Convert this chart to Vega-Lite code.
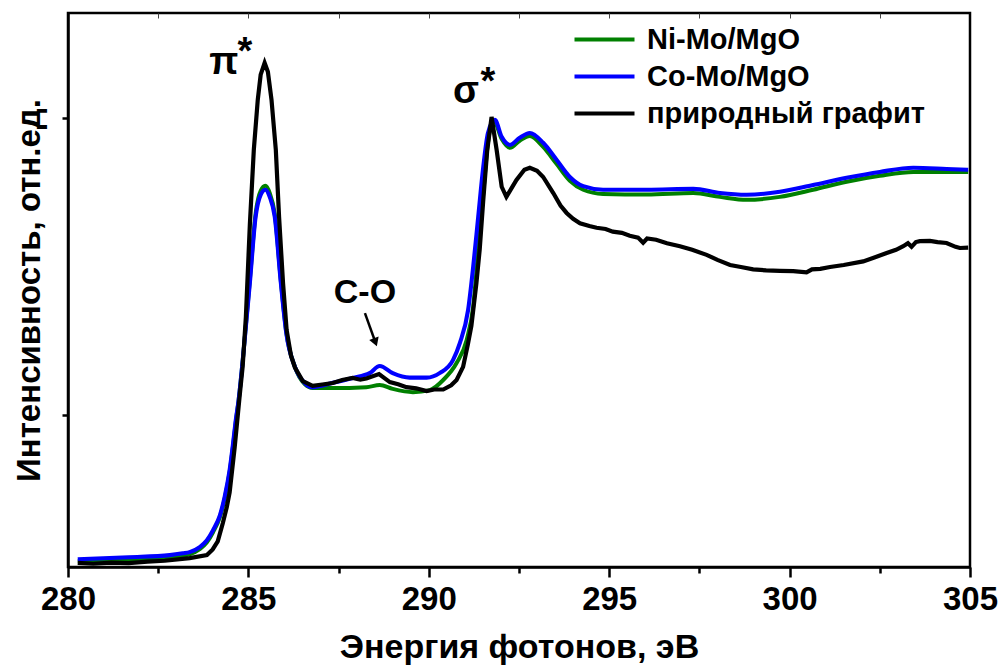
{
  "$schema": "https://vega.github.io/schema/vega-lite/v6.json",
  "width": 902,
  "height": 554,
  "autosize": {"type": "none"},
  "padding": {"left": 68, "top": 13, "right": 34, "bottom": 101},
  "background": "white",
  "datasets": {
    "spectra": [
      {"s": "Ni-Mo/MgO", "e": 280.27, "i": 0.508}, {"s": "Ni-Mo/MgO", "e": 281.68, "i": 0.515}, {"s": "Ni-Mo/MgO", "e": 282.82, "i": 0.522}, {"s": "Ni-Mo/MgO", "e": 283.37, "i": 0.532}, {"s": "Ni-Mo/MgO", "e": 283.65, "i": 0.549}, {"s": "Ni-Mo/MgO", "e": 283.85, "i": 0.572}, {"s": "Ni-Mo/MgO", "e": 284.02, "i": 0.606}, {"s": "Ni-Mo/MgO", "e": 284.21, "i": 0.657}, {"s": "Ni-Mo/MgO", "e": 284.34, "i": 0.717}, {"s": "Ni-Mo/MgO", "e": 284.48, "i": 0.808}, {"s": "Ni-Mo/MgO", "e": 284.57, "i": 0.892}, {"s": "Ni-Mo/MgO", "e": 284.65, "i": 0.976}, {"s": "Ni-Mo/MgO", "e": 284.73, "i": 1.051}, {"s": "Ni-Mo/MgO", "e": 284.87, "i": 1.219}, {"s": "Ni-Mo/MgO", "e": 285.04, "i": 1.455}, {"s": "Ni-Mo/MgO", "e": 285.20, "i": 1.677}, {"s": "Ni-Mo/MgO", "e": 285.34, "i": 1.754}, {"s": "Ni-Mo/MgO", "e": 285.47, "i": 1.771}, {"s": "Ni-Mo/MgO", "e": 285.59, "i": 1.747}, {"s": "Ni-Mo/MgO", "e": 285.73, "i": 1.677}, {"s": "Ni-Mo/MgO", "e": 285.90, "i": 1.451}, {"s": "Ni-Mo/MgO", "e": 286.05, "i": 1.279}, {"s": "Ni-Mo/MgO", "e": 286.29, "i": 1.162}, {"s": "Ni-Mo/MgO", "e": 286.56, "i": 1.104}, {"s": "Ni-Mo/MgO", "e": 286.78, "i": 1.091}, {"s": "Ni-Mo/MgO", "e": 287.34, "i": 1.091}, {"s": "Ni-Mo/MgO", "e": 288.27, "i": 1.094}, {"s": "Ni-Mo/MgO", "e": 288.64, "i": 1.101}, {"s": "Ni-Mo/MgO", "e": 289.00, "i": 1.088}, {"s": "Ni-Mo/MgO", "e": 289.56, "i": 1.077}, {"s": "Ni-Mo/MgO", "e": 290.03, "i": 1.084}, {"s": "Ni-Mo/MgO", "e": 290.40, "i": 1.118}, {"s": "Ni-Mo/MgO", "e": 290.77, "i": 1.175}, {"s": "Ni-Mo/MgO", "e": 291.05, "i": 1.253}, {"s": "Ni-Mo/MgO", "e": 291.23, "i": 1.364}, {"s": "Ni-Mo/MgO", "e": 291.37, "i": 1.556}, {"s": "Ni-Mo/MgO", "e": 291.51, "i": 1.747}, {"s": "Ni-Mo/MgO", "e": 291.64, "i": 1.916}, {"s": "Ni-Mo/MgO", "e": 291.80, "i": 1.990}, {"s": "Ni-Mo/MgO", "e": 292.02, "i": 1.929}, {"s": "Ni-Mo/MgO", "e": 292.25, "i": 1.899}, {"s": "Ni-Mo/MgO", "e": 292.52, "i": 1.923}, {"s": "Ni-Mo/MgO", "e": 292.80, "i": 1.939}, {"s": "Ni-Mo/MgO", "e": 293.17, "i": 1.902}, {"s": "Ni-Mo/MgO", "e": 293.54, "i": 1.845}, {"s": "Ni-Mo/MgO", "e": 293.91, "i": 1.788}, {"s": "Ni-Mo/MgO", "e": 294.28, "i": 1.758}, {"s": "Ni-Mo/MgO", "e": 294.83, "i": 1.744}, {"s": "Ni-Mo/MgO", "e": 296.04, "i": 1.742}, {"s": "Ni-Mo/MgO", "e": 297.33, "i": 1.747}, {"s": "Ni-Mo/MgO", "e": 298.07, "i": 1.734}, {"s": "Ni-Mo/MgO", "e": 298.81, "i": 1.724}, {"s": "Ni-Mo/MgO", "e": 299.73, "i": 1.734}, {"s": "Ni-Mo/MgO", "e": 300.65, "i": 1.758}, {"s": "Ni-Mo/MgO", "e": 301.58, "i": 1.785}, {"s": "Ni-Mo/MgO", "e": 302.50, "i": 1.805}, {"s": "Ni-Mo/MgO", "e": 303.43, "i": 1.818}, {"s": "Ni-Mo/MgO", "e": 304.35, "i": 1.818}, {"s": "Ni-Mo/MgO", "e": 304.95, "i": 1.818},

      {"s": "Co-Mo/MgO", "e": 280.27, "i": 0.515}, {"s": "Co-Mo/MgO", "e": 281.68, "i": 0.522}, {"s": "Co-Mo/MgO", "e": 282.82, "i": 0.529}, {"s": "Co-Mo/MgO", "e": 283.18, "i": 0.535}, {"s": "Co-Mo/MgO", "e": 283.37, "i": 0.539}, {"s": "Co-Mo/MgO", "e": 283.65, "i": 0.556}, {"s": "Co-Mo/MgO", "e": 283.85, "i": 0.579}, {"s": "Co-Mo/MgO", "e": 284.02, "i": 0.613}, {"s": "Co-Mo/MgO", "e": 284.21, "i": 0.663}, {"s": "Co-Mo/MgO", "e": 284.34, "i": 0.724}, {"s": "Co-Mo/MgO", "e": 284.48, "i": 0.815}, {"s": "Co-Mo/MgO", "e": 284.57, "i": 0.899}, {"s": "Co-Mo/MgO", "e": 284.65, "i": 0.983}, {"s": "Co-Mo/MgO", "e": 284.73, "i": 1.051}, {"s": "Co-Mo/MgO", "e": 284.87, "i": 1.219}, {"s": "Co-Mo/MgO", "e": 285.04, "i": 1.444}, {"s": "Co-Mo/MgO", "e": 285.20, "i": 1.667}, {"s": "Co-Mo/MgO", "e": 285.34, "i": 1.741}, {"s": "Co-Mo/MgO", "e": 285.47, "i": 1.758}, {"s": "Co-Mo/MgO", "e": 285.59, "i": 1.734}, {"s": "Co-Mo/MgO", "e": 285.73, "i": 1.667}, {"s": "Co-Mo/MgO", "e": 285.90, "i": 1.444}, {"s": "Co-Mo/MgO", "e": 286.05, "i": 1.276}, {"s": "Co-Mo/MgO", "e": 286.29, "i": 1.162}, {"s": "Co-Mo/MgO", "e": 286.56, "i": 1.108}, {"s": "Co-Mo/MgO", "e": 286.76, "i": 1.094}, {"s": "Co-Mo/MgO", "e": 287.34, "i": 1.109}, {"s": "Co-Mo/MgO", "e": 287.89, "i": 1.125}, {"s": "Co-Mo/MgO", "e": 288.36, "i": 1.141}, {"s": "Co-Mo/MgO", "e": 288.64, "i": 1.165}, {"s": "Co-Mo/MgO", "e": 289.00, "i": 1.141}, {"s": "Co-Mo/MgO", "e": 289.47, "i": 1.126}, {"s": "Co-Mo/MgO", "e": 289.94, "i": 1.126}, {"s": "Co-Mo/MgO", "e": 290.31, "i": 1.142}, {"s": "Co-Mo/MgO", "e": 290.67, "i": 1.185}, {"s": "Co-Mo/MgO", "e": 290.86, "i": 1.242}, {"s": "Co-Mo/MgO", "e": 291.09, "i": 1.354}, {"s": "Co-Mo/MgO", "e": 291.23, "i": 1.498}, {"s": "Co-Mo/MgO", "e": 291.37, "i": 1.667}, {"s": "Co-Mo/MgO", "e": 291.51, "i": 1.835}, {"s": "Co-Mo/MgO", "e": 291.64, "i": 1.949}, {"s": "Co-Mo/MgO", "e": 291.83, "i": 1.993}, {"s": "Co-Mo/MgO", "e": 292.02, "i": 1.936}, {"s": "Co-Mo/MgO", "e": 292.25, "i": 1.909}, {"s": "Co-Mo/MgO", "e": 292.52, "i": 1.933}, {"s": "Co-Mo/MgO", "e": 292.80, "i": 1.949}, {"s": "Co-Mo/MgO", "e": 293.17, "i": 1.916}, {"s": "Co-Mo/MgO", "e": 293.54, "i": 1.859}, {"s": "Co-Mo/MgO", "e": 293.91, "i": 1.801}, {"s": "Co-Mo/MgO", "e": 294.28, "i": 1.770}, {"s": "Co-Mo/MgO", "e": 294.83, "i": 1.758}, {"s": "Co-Mo/MgO", "e": 295.57, "i": 1.758}, {"s": "Co-Mo/MgO", "e": 296.04, "i": 1.758}, {"s": "Co-Mo/MgO", "e": 297.33, "i": 1.761}, {"s": "Co-Mo/MgO", "e": 298.07, "i": 1.747}, {"s": "Co-Mo/MgO", "e": 298.81, "i": 1.741}, {"s": "Co-Mo/MgO", "e": 299.73, "i": 1.751}, {"s": "Co-Mo/MgO", "e": 300.65, "i": 1.774}, {"s": "Co-Mo/MgO", "e": 301.58, "i": 1.798}, {"s": "Co-Mo/MgO", "e": 302.50, "i": 1.818}, {"s": "Co-Mo/MgO", "e": 303.43, "i": 1.832}, {"s": "Co-Mo/MgO", "e": 304.35, "i": 1.828}, {"s": "Co-Mo/MgO", "e": 304.95, "i": 1.825},

      {"s": "природный графит", "e": 280.27, "i": 0.503}, {"s": "природный графит", "e": 280.7, "i": 0.500}, {"s": "природный графит", "e": 281.2, "i": 0.504}, {"s": "природный графит", "e": 281.68, "i": 0.502}, {"s": "природный графит", "e": 282.2, "i": 0.507}, {"s": "природный графит", "e": 282.68, "i": 0.510}, {"s": "природный графит", "e": 283.37, "i": 0.519}, {"s": "природный графит", "e": 283.85, "i": 0.529}, {"s": "природный графит", "e": 284.01, "i": 0.548}, {"s": "природный графит", "e": 284.15, "i": 0.575}, {"s": "природный графит", "e": 284.29, "i": 0.636}, {"s": "природный графит", "e": 284.40, "i": 0.690}, {"s": "природный графит", "e": 284.48, "i": 0.740}, {"s": "природный графит", "e": 284.62, "i": 0.892}, {"s": "природный графит", "e": 284.76, "i": 1.067}, {"s": "природный графит", "e": 284.84, "i": 1.162}, {"s": "природный графит", "e": 284.93, "i": 1.330}, {"s": "природный графит", "e": 285.04, "i": 1.640}, {"s": "природный графит", "e": 285.15, "i": 1.892}, {"s": "природный графит", "e": 285.26, "i": 2.061}, {"s": "природный графит", "e": 285.34, "i": 2.145}, {"s": "природный графит", "e": 285.45, "i": 2.185}, {"s": "природный графит", "e": 285.54, "i": 2.155}, {"s": "природный графит", "e": 285.64, "i": 2.061}, {"s": "природный графит", "e": 285.76, "i": 1.892}, {"s": "природный графит", "e": 285.85, "i": 1.667}, {"s": "природный графит", "e": 285.96, "i": 1.444}, {"s": "природный графит", "e": 286.06, "i": 1.286}, {"s": "природный графит", "e": 286.18, "i": 1.200}, {"s": "природный графит", "e": 286.29, "i": 1.160}, {"s": "природный графит", "e": 286.51, "i": 1.114}, {"s": "природный графит", "e": 286.78, "i": 1.098}, {"s": "природный графит", "e": 287.05, "i": 1.103}, {"s": "природный графит", "e": 287.34, "i": 1.108}, {"s": "природный графит", "e": 287.6, "i": 1.118}, {"s": "природный графит", "e": 287.89, "i": 1.125}, {"s": "природный графит", "e": 288.1, "i": 1.119}, {"s": "природный графит", "e": 288.27, "i": 1.123}, {"s": "природный графит", "e": 288.62, "i": 1.138}, {"s": "природный графит", "e": 288.92, "i": 1.111}, {"s": "природный графит", "e": 289.15, "i": 1.104}, {"s": "природный графит", "e": 289.38, "i": 1.094}, {"s": "природный графит", "e": 289.65, "i": 1.090}, {"s": "природный графит", "e": 289.94, "i": 1.081}, {"s": "природный графит", "e": 290.15, "i": 1.086}, {"s": "природный графит", "e": 290.40, "i": 1.086}, {"s": "природный графит", "e": 290.62, "i": 1.100}, {"s": "природный графит", "e": 290.77, "i": 1.118}, {"s": "природный графит", "e": 290.95, "i": 1.162}, {"s": "природный графит", "e": 291.08, "i": 1.236}, {"s": "природный графит", "e": 291.18, "i": 1.300}, {"s": "природный графит", "e": 291.32, "i": 1.444}, {"s": "природный графит", "e": 291.41, "i": 1.556}, {"s": "природный графит", "e": 291.51, "i": 1.724}, {"s": "природный графит", "e": 291.62, "i": 1.892}, {"s": "природный графит", "e": 291.74, "i": 2.003}, {"s": "природный графит", "e": 291.88, "i": 1.892}, {"s": "природный графит", "e": 292.02, "i": 1.768}, {"s": "природный графит", "e": 292.15, "i": 1.734}, {"s": "природный графит", "e": 292.43, "i": 1.791}, {"s": "природный графит", "e": 292.65, "i": 1.825}, {"s": "природный графит", "e": 292.80, "i": 1.832}, {"s": "природный графит", "e": 293.0, "i": 1.822}, {"s": "природный графит", "e": 293.17, "i": 1.801}, {"s": "природный графит", "e": 293.45, "i": 1.747}, {"s": "природный графит", "e": 293.65, "i": 1.705}, {"s": "природный графит", "e": 293.82, "i": 1.680}, {"s": "природный графит", "e": 294.0, "i": 1.660}, {"s": "природный графит", "e": 294.19, "i": 1.645}, {"s": "природный графит", "e": 294.45, "i": 1.636}, {"s": "природный графит", "e": 294.65, "i": 1.630}, {"s": "природный графит", "e": 294.9, "i": 1.626}, {"s": "природный графит", "e": 295.10, "i": 1.617}, {"s": "природный графит", "e": 295.35, "i": 1.613}, {"s": "природный графит", "e": 295.57, "i": 1.603}, {"s": "природный графит", "e": 295.8, "i": 1.597}, {"s": "природный графит", "e": 295.94, "i": 1.580}, {"s": "природный графит", "e": 296.05, "i": 1.594}, {"s": "природный графит", "e": 296.3, "i": 1.590}, {"s": "природный графит", "e": 296.6, "i": 1.578}, {"s": "природный графит", "e": 296.96, "i": 1.568}, {"s": "природный графит", "e": 297.3, "i": 1.556}, {"s": "природный графит", "e": 297.70, "i": 1.539}, {"s": "природный графит", "e": 298.0, "i": 1.522}, {"s": "природный графит", "e": 298.35, "i": 1.505}, {"s": "природный графит", "e": 298.65, "i": 1.498}, {"s": "природный графит", "e": 298.99, "i": 1.490}, {"s": "природный графит", "e": 299.35, "i": 1.487}, {"s": "природный графит", "e": 299.73, "i": 1.485}, {"s": "природный графит", "e": 300.1, "i": 1.484}, {"s": "природный графит", "e": 300.47, "i": 1.480}, {"s": "природный графит", "e": 300.62, "i": 1.490}, {"s": "природный графит", "e": 300.85, "i": 1.492}, {"s": "природный графит", "e": 301.12, "i": 1.498}, {"s": "природный графит", "e": 301.5, "i": 1.505}, {"s": "природный графит", "e": 302.04, "i": 1.517}, {"s": "природный графит", "e": 302.35, "i": 1.530}, {"s": "природный графит", "e": 302.69, "i": 1.545}, {"s": "природный графит", "e": 302.95, "i": 1.556}, {"s": "природный графит", "e": 303.15, "i": 1.568}, {"s": "природный графит", "e": 303.28, "i": 1.578}, {"s": "природный графит", "e": 303.38, "i": 1.566}, {"s": "природный графит", "e": 303.50, "i": 1.582}, {"s": "природный графит", "e": 303.61, "i": 1.585}, {"s": "природный графит", "e": 303.89, "i": 1.586}, {"s": "природный графит", "e": 304.1, "i": 1.582}, {"s": "природный графит", "e": 304.35, "i": 1.579}, {"s": "природный графит", "e": 304.6, "i": 1.566}, {"s": "природный графит", "e": 304.72, "i": 1.562}, {"s": "природный графит", "e": 304.95, "i": 1.563}
    ],
    "labels": [
      {"t": "π", "e": 284.32, "i": 2.148, "k": "big"},
      {"t": "*", "e": 284.90, "i": 2.182, "k": "big"},
      {"t": "σ", "e": 291.03, "i": 2.051, "k": "big"},
      {"t": "*", "e": 291.64, "i": 2.081, "k": "big"},
      {"t": "C-O", "e": 288.23, "i": 1.377, "k": "small"}
    ],
    "arrow": [
      {"e1": 288.23, "i1": 1.343, "e2": 288.52, "i2": 1.245}
    ]
  },
  "layer": [
    {
      "data": {"name": "spectra"},
      "transform": [{"filter": "datum.s === 'Ni-Mo/MgO'"}],
      "mark": {"type": "line", "interpolate": "monotone"},
      "encoding": {
        "x": {"field": "e", "type": "quantitative", "scale": {"domain": [280, 305], "nice": false, "zero": false},
          "axis": {"values": [280, 282.5, 285, 287.5, 290, 292.5, 295, 297.5, 300, 302.5, 305], "labelExpr": "datum.value % 5 === 0 ? format(datum.value, 'd') : ''", "labelFlush": false, "labelOverlap": false, "tickSize": {"condition": {"test": "datum.value % 5 === 0", "value": 10}, "value": 6}, "labelPadding": 6, "labelFontSize": 33, "title": "Энергия фотонов, эВ", "titleFontSize": 34, "titlePadding": 14}},
        "y": {"field": "i", "type": "quantitative", "scale": {"domain": [0.489, 2.3525], "nice": false, "zero": false},
          "axis": {"values": [1, 2], "labels": false, "tickSize": 6, "title": "Интенсивность, отн.ед.", "titleFontSize": 33, "titlePadding": 14}},
        "color": {"field": "s", "type": "nominal", "title": null, "scale": {"domain": ["Ni-Mo/MgO", "Co-Mo/MgO", "природный графит"], "range": ["#008000", "#0000ff", "#000000"]},
          "legend": {"encode": {"symbols": {"update": {"strokeWidth": {"signal": "datum.value === 'природный графит' ? 2 : 4.5"}}}}}},
        "strokeWidth": {"field": "s", "type": "nominal", "title": null, "scale": {"domain": ["Ni-Mo/MgO", "Co-Mo/MgO", "природный графит"], "range": [4, 4.2, 1.8]}}
      }
    },
    {
      "data": {"name": "spectra"},
      "transform": [{"filter": "datum.s === 'Co-Mo/MgO'"}],
      "mark": {"type": "line", "interpolate": "monotone"},
      "encoding": {
        "x": {"field": "e", "type": "quantitative", "axis": null},
        "y": {"field": "i", "type": "quantitative"},
        "color": {"field": "s", "type": "nominal", "title": null},
        "strokeWidth": {"field": "s", "type": "nominal", "title": null}
      }
    },
    {
      "data": {"name": "spectra"},
      "transform": [{"filter": "datum.s === 'природный графит'"}],
      "mark": {"type": "line", "interpolate": "linear"},
      "encoding": {
        "x": {"field": "e", "type": "quantitative", "axis": null},
        "y": {"field": "i", "type": "quantitative"},
        "color": {"field": "s", "type": "nominal", "title": null},
        "strokeWidth": {"field": "s", "type": "nominal", "title": null}
      }
    },
    {
      "data": {"name": "arrow"},
      "mark": {"type": "rule", "color": "black", "strokeWidth": 2.5},
      "encoding": {
        "x": {"field": "e1", "type": "quantitative", "axis": null},
        "x2": {"field": "e2"},
        "y": {"field": "i1", "type": "quantitative"},
        "y2": {"field": "i2"}
      }
    },
    {
      "data": {"name": "arrow"},
      "mark": {"type": "point", "shape": "triangle-down", "filled": true, "color": "black", "size": 100, "angle": 340, "opacity": 1},
      "encoding": {
        "x": {"field": "e2", "type": "quantitative", "axis": null},
        "y": {"field": "i2", "type": "quantitative"}
      }
    },
    {
      "data": {"name": "labels"},
      "mark": {"type": "text", "font": "Liberation Sans", "fontWeight": "bold", "align": "center", "baseline": "alphabetic", "color": "black"},
      "encoding": {
        "x": {"field": "e", "type": "quantitative",
          "axis": {"orient": "top", "values": [282.5, 285, 287.5, 290, 292.5, 295, 297.5, 300, 302.5], "labels": false, "domain": false, "tickSize": -5, "tickWidth": 1, "tickColor": "#444444", "title": null}},
        "y": {"field": "i", "type": "quantitative"},
        "text": {"field": "t"},
        "size": {"field": "k", "type": "nominal", "legend": null, "scale": {"domain": ["big", "small"], "range": [38, 34]}}
      }
    }
  ],
  "resolve": {"axis": {"x": "independent"}},
  "config": {
    "font": "Liberation Sans",
    "view": {"stroke": "black", "strokeWidth": 2.5},
    "axis": {"grid": false, "domainColor": "black", "domainWidth": 2.5, "tickColor": "black", "tickWidth": 2.5, "labelFont": "Liberation Sans", "labelFontWeight": "bold", "labelFontSize": 32, "labelColor": "black", "titleFont": "Liberation Sans", "titleFontWeight": "bold", "titleFontSize": 32, "titleColor": "black"},
    "legend": {"orient": "none", "legendX": 504, "legendY": 8, "symbolType": "stroke", "symbolSize": 3600, "labelFont": "Liberation Sans", "labelFontWeight": "bold", "labelFontSize": 29, "labelColor": "black", "labelOffset": 10, "labelLimit": 500, "clipHeight": 37, "rowPadding": 0, "symbolOpacity": 1}
  }
}
